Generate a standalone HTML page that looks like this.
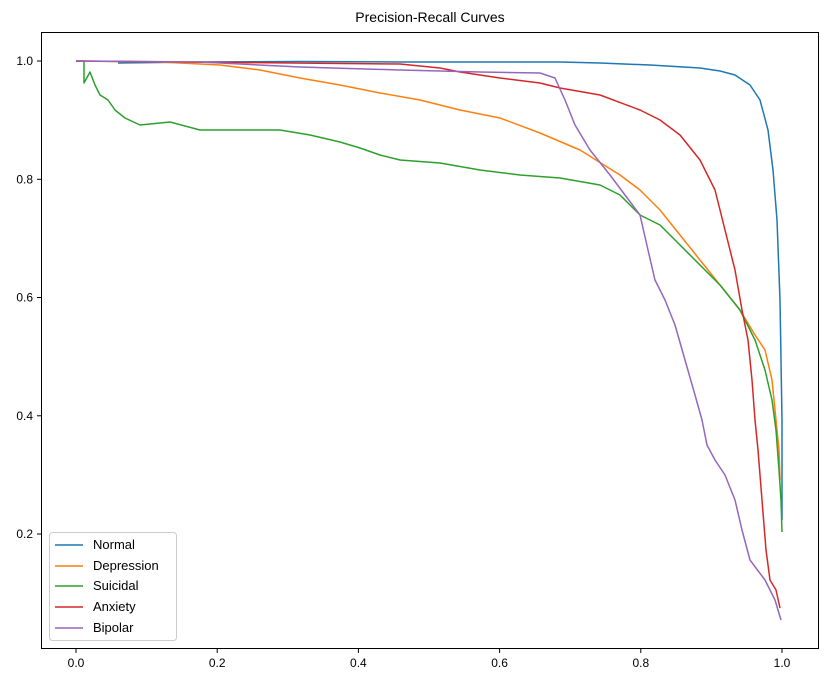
<!DOCTYPE html>
<html><head><style>body{margin:0;background:#fff}svg{display:block;font-family:"Liberation Sans","DejaVu Sans",sans-serif}</style></head>
<body>
<svg width="826" height="682" viewBox="0 0 826 682">
<rect width="826" height="682" fill="#fff"/>
<text x="430" y="22" font-size="14" text-anchor="middle">Precision-Recall Curves</text>
<g fill="none" stroke-width="1.5" stroke-linejoin="round">
<polyline stroke="#1f77b4" points="118,63 200,62 300,61.5 400,62 480,62 560,62 600,63 650,65 700,68 720,71 735,75 750,85 760,100 768,130 773,170 777,220 780,300 781,360 782,420 782,520"/>
<polyline stroke="#ff7f0e" points="76,61 160,62 220,65 260,70 300,78 340,85 380,93 420,100 460,110 500,118 540,133 580,150 620,175 640,190 660,210 680,235 700,260 720,285 740,310 755,335 765,350 772,380 776,420 779,450 780,480"/>
<polyline stroke="#2ca02c" points="76,61 84,61 84,83 90,72 95,85 100,95 108,100 115,110 125,118 140,125 170,122 200,130 240,130 280,130 310,135 340,142 360,148 380,155 400,160 440,163 480,170 520,175 560,178 600,185 620,195 640,215 660,225 680,245 700,265 720,285 740,310 755,340 765,370 772,400 776,430 779,470 781,500 782,532"/>
<polyline stroke="#d62728" points="76,61 400,64 440,68 460,72 500,78 540,83 560,88 600,95 640,110 660,120 680,135 700,160 715,190 725,230 735,270 742,310 748,340 752,380 755,420 758,450 762,500 766,550 770,580 776,590 780,608"/>
<polyline stroke="#9467bd" points="76,61 200,62 300,67 400,70 480,72 540,73 555,78 565,100 575,125 590,150 610,175 625,195 640,215 648,250 655,280 665,300 675,325 685,360 695,395 702,420 707,445 715,460 725,475 735,500 742,530 750,560 765,580 775,600 781,620"/>
</g>
<rect x="41.5" y="32.5" width="777" height="616" fill="none" stroke="#000" stroke-width="1"/>
<g stroke="#000">
<line x1="76" y1="649" x2="76" y2="653"/><line x1="217.2" y1="649" x2="217.2" y2="653"/><line x1="358.4" y1="649" x2="358.4" y2="653"/><line x1="499.6" y1="649" x2="499.6" y2="653"/><line x1="640.8" y1="649" x2="640.8" y2="653"/><line x1="782" y1="649" x2="782" y2="653"/>
<line x1="37" y1="61" x2="41" y2="61"/><line x1="37" y1="179.3" x2="41" y2="179.3"/><line x1="37" y1="297.5" x2="41" y2="297.5"/><line x1="37" y1="415.8" x2="41" y2="415.8"/><line x1="37" y1="534" x2="41" y2="534"/>
</g>
<g font-size="12" text-anchor="middle">
<text x="76" y="667">0.0</text><text x="217.2" y="667">0.2</text><text x="358.4" y="667">0.4</text><text x="499.6" y="667">0.6</text><text x="640.8" y="667">0.8</text><text x="782" y="667">1.0</text>
</g>
<g font-size="12" text-anchor="end">
<text x="33" y="65">1.0</text><text x="33" y="183.3">0.8</text><text x="33" y="301.5">0.6</text><text x="33" y="419.8">0.4</text><text x="33" y="538">0.2</text>
</g>
<rect x="49.5" y="532.5" width="127" height="108" rx="3" fill="#fff" fill-opacity="0.8" stroke="#ccc"/>
<g stroke-width="1.5">
<line x1="55" y1="545" x2="83" y2="545" stroke="#1f77b4"/>
<line x1="55" y1="566" x2="83" y2="566" stroke="#ff7f0e"/>
<line x1="55" y1="586" x2="83" y2="586" stroke="#2ca02c"/>
<line x1="55" y1="607" x2="83" y2="607" stroke="#d62728"/>
<line x1="55" y1="628" x2="83" y2="628" stroke="#9467bd"/>
</g>
<g font-size="13">
<text x="93" y="549">Normal</text><text x="93" y="570">Depression</text><text x="93" y="590">Suicidal</text><text x="93" y="611">Anxiety</text><text x="93" y="632">Bipolar</text>
</g>
</svg>
</body></html>
